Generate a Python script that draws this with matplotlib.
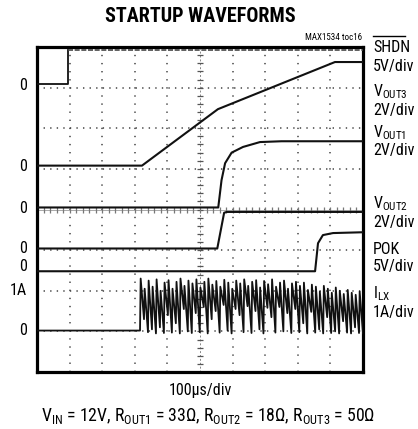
import matplotlib
matplotlib.use("Agg")
import matplotlib.pyplot as plt
from matplotlib.lines import Line2D
from matplotlib import font_manager
import numpy as np

# ---------------------------------------------------------------------------
# Data (scope divisions: 10 horizontal, 8 vertical)
# ---------------------------------------------------------------------------

SHDN_T = [0, 0.95, 0.95, 10]
SHDN_V = [7.08, 7.08, 7.93, 7.93]

VOUT3_T = [0, 3.22, 5.55, 9.14, 10]
VOUT3_V = [5.08, 5.08, 6.47, 7.63, 7.63]

VOUT1_T = [0, 5.56, 5.66, 5.77, 5.97, 6.32, 6.84, 7.5, 10]
VOUT1_V = [4.05, 4.05, 4.72, 5.14, 5.40, 5.54, 5.66, 5.68, 5.68]

VOUT2_T = [0, 5.53, 5.74, 5.82, 10]
VOUT2_V = [3.04, 3.04, 3.92, 3.94, 3.94]

POK_T = [0, 8.53, 8.62, 8.77, 9.08, 10]
POK_V = [2.48, 2.48, 3.17, 3.37, 3.42, 3.44]

ILX_START = 3.16
ILX_BASE = 1.02
ILX_PEAKS = [2.30, 2.05, 2.25, 2.10, 2.28, 2.00, 2.20, 2.26, 2.05, 2.22, 2.30, 2.12,
             2.25, 2.18, 2.28, 2.08, 2.22, 2.30, 2.15, 2.24, 2.10, 2.27, 2.20, 2.05,
             2.25, 2.18, 2.28, 2.12, 2.22, 2.26, 2.08, 2.24, 2.16, 2.28, 2.10, 2.20,
             2.25, 2.05, 2.18, 2.22, 2.12, 2.20, 2.02, 2.15, 2.10, 1.98, 2.12, 2.05,
             1.95, 2.08, 2.00, 1.92, 2.02, 1.95, 1.90, 1.98]
ILX_TROUGHS = [1.30, 0.98, 1.05, 0.95, 1.10, 0.96, 1.40, 0.97, 1.20, 0.95, 1.55, 1.00,
               0.96, 1.45, 0.98, 1.60, 0.95, 1.30, 1.50, 0.97, 1.65, 1.02, 0.95, 1.55,
               1.40, 0.98, 1.62, 0.96, 1.50, 1.05, 0.95, 1.58, 1.35, 0.97, 1.60, 1.00,
               1.45, 0.96, 1.55, 0.98, 1.20, 0.95, 1.48, 0.97, 1.05, 0.95, 1.35, 0.96,
               1.00, 0.95, 1.25, 0.97, 0.95, 1.10, 0.96, 0.95]

LEFT_LABELS = ["0", "0", "0", "0", "0", "1A", "0"]
LEFT_LABEL_Y = [7.05, 5.05, 4.03, 3.05, 2.6, 2.0, 1.02]

# right-hand channel labels: (name, scale, y of name in figure px)
CHANNELS = [
    (r"SHDN", "5V/div", 48),
    (r"V$_{\mathregular{OUT3}}$", "2V/div", 92),
    (r"V$_{\mathregular{OUT1}}$", "2V/div", 133),
    (r"V$_{\mathregular{OUT2}}$", "2V/div", 204),
    (r"POK", "5V/div", 249),
    (r"I$_{\mathregular{LX}}$", "1A/div", 294),
]

names = {f.name for f in font_manager.fontManager.ttflist}
narrow = [n for n in ["Liberation Sans Narrow", "Arial Narrow", "Roboto Condensed",
                      "Open Sans Condensed", "DejaVu Sans"] if n in names]
plt.rcParams["font.family"] = narrow
plt.rcParams["font.stretch"] = "condensed"
plt.rcParams["mathtext.fontset"] = "custom"
plt.rcParams["mathtext.rm"] = narrow[0] + ":stretch=condensed"
plt.rcParams["mathtext.default"] = "regular"

W, H = 418, 429
fig = plt.figure(figsize=(W / 100, H / 100), dpi=100)
ax = fig.add_axes([37 / W, 1 - 372 / H, 326 / W, 325 / H])
ax.set_xlim(0, 10)
ax.set_ylim(0, 8)
ax.set_xticks([])
ax.set_yticks([])
for s in ax.spines.values():
    s.set_linewidth(2.3)
    s.set_color("black")

# graticule
for x in range(1, 10):
    if x != 5:
        ax.axvline(x, color="#444444", lw=1.1, ls=(0, (0.9, 4.4)), zorder=1)
for y in range(1, 8):
    if y != 4:
        ax.axhline(y, color="#444444", lw=1.1, ls=(0, (0.9, 3.4)), zorder=1)
ax.axvline(5, color="#888888", lw=0.7, ls=(0, (2, 2)), zorder=1)
ax.axhline(4, color="#aaaaaa", lw=0.7, zorder=1)
marks = np.arange(0.2, 8, 0.2)
ax.plot(np.full_like(marks, 5), marks, ls="none", marker="_", ms=4, mew=0.9,
        color="#555555", zorder=1)
marks = np.arange(0.2, 10, 0.2)
ax.plot(marks, np.full_like(marks, 4), ls="none", marker="|", ms=4, mew=0.9,
        color="#777777", zorder=1)

# traces
tc = "#111111"
ax.plot(SHDN_T[:3], SHDN_V[:3], color=tc, lw=1.3, zorder=3)
ax.plot(SHDN_T[2:], SHDN_V[2:], color="#444444", lw=1.2, ls=(0, (3, 1)), zorder=3)
ax.plot(VOUT3_T, VOUT3_V, color=tc, lw=1.5, zorder=3)
ax.plot(VOUT1_T, VOUT1_V, color=tc, lw=1.5, zorder=3)
ax.plot(VOUT2_T, VOUT2_V, color=tc, lw=1.5, zorder=3)
ax.plot(POK_T, POK_V, color=tc, lw=1.5, zorder=3)

n = len(ILX_PEAKS)
tt = np.linspace(ILX_START, 10, n + 1)
ilx_t = [0, ILX_START]
ilx_v = [ILX_BASE, ILX_BASE]
for i in range(n):
    ilx_t += [tt[i] + 0.02, tt[i + 1]]
    ilx_v += [ILX_PEAKS[i], ILX_TROUGHS[i]]
ax.plot(ilx_t, ilx_v, color=tc, lw=1.3, zorder=3)

fs = 11.5
# left labels
for lab, y in zip(LEFT_LABELS, LEFT_LABEL_Y):
    ax.text(-0.32, y, lab, ha="right", va="center", fontsize=fs, clip_on=False)

# right labels
for name, scale, ypx in CHANNELS:
    fig.text(373 / W, 1 - ypx / H, name, ha="left", va="center", fontsize=fs)
    fig.text(373 / W, 1 - (ypx + 18) / H, scale, ha="left", va="center", fontsize=fs)
fig.add_artist(Line2D([373 / W, 405 / W], [1 - 36 / H, 1 - 36 / H], color="black", lw=1))

fig.text(200 / W, 1 - 17 / H, "STARTUP WAVEFORMS", ha="center", va="center",
         fontsize=14.5, fontweight="heavy")
fig.text(362 / W, 1 - 38 / H, "MAX1534 toc16", ha="right", va="center", fontsize=6.5)
fig.text(200 / W, 1 - 391 / H, "100µs/div", ha="center", va="center", fontsize=fs)
fig.text(208 / W, 1 - 416 / H,
         r"V$_{\mathregular{IN}}$ = 12V, R$_{\mathregular{OUT1}}$ = 33$\Omega$, "
         r"R$_{\mathregular{OUT2}}$ = 18$\Omega$, R$_{\mathregular{OUT3}}$ = 50$\Omega$",
         ha="center", va="center", fontsize=12.8)

fig.savefig("out.png", dpi=100)
